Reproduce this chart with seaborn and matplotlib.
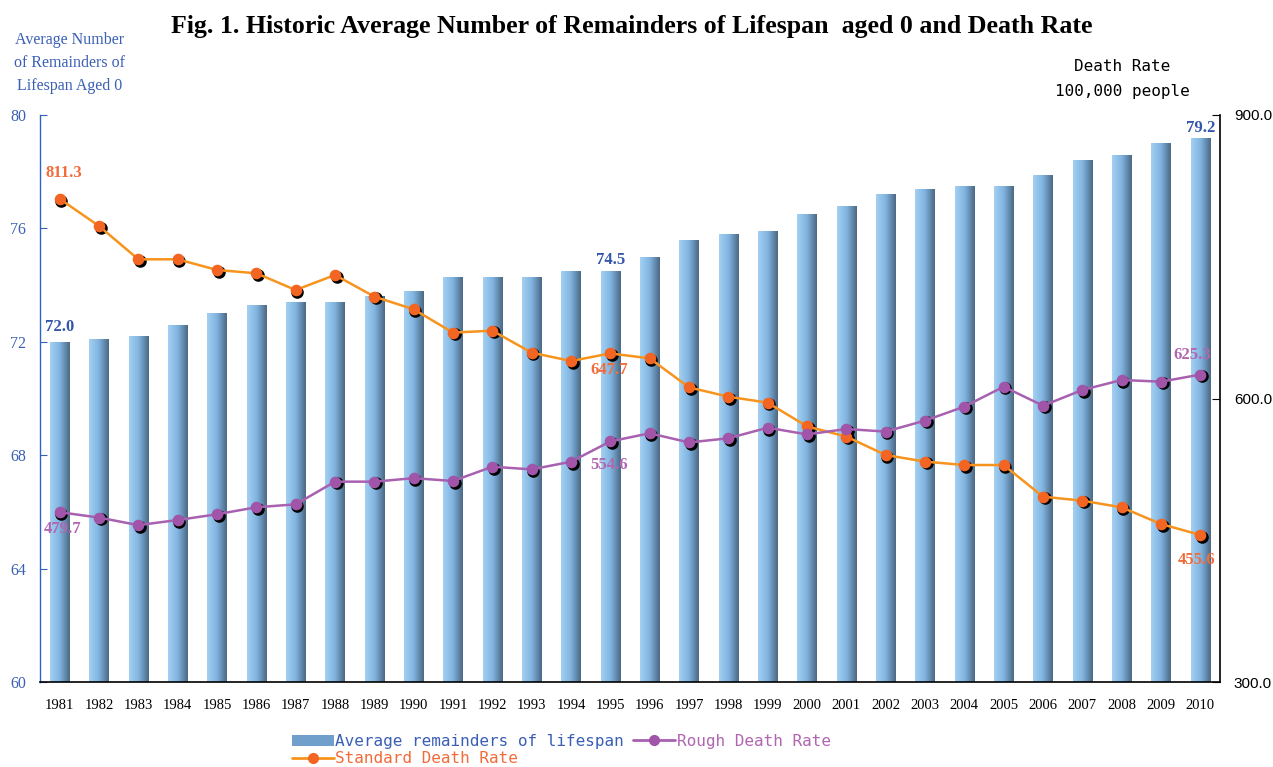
import numpy as np
import pandas as pd
import seaborn as sns
import matplotlib.pyplot as plt
import matplotlib.transforms as mtransforms
from matplotlib.colors import LinearSegmentedColormap
from matplotlib.patches import Patch
from matplotlib.lines import Line2D

years = [str(y) for y in range(1981, 2011)]
lifespan = [72.0, 72.1, 72.2, 72.6, 73.0, 73.3, 73.4, 73.4, 73.6, 73.8,
            74.3, 74.3, 74.3, 74.5, 74.5, 75.0, 75.6, 75.8, 75.9, 76.5,
            76.8, 77.2, 77.4, 77.5, 77.5, 77.9, 78.4, 78.6, 79.0, 79.2]
standard_rate = [811.3, 782.5, 747.3, 747.3, 736.0, 732.5, 714.8, 730.7, 707.8, 694.4,
                 669.7, 671.8, 648.5, 639.7, 647.7, 642.5, 611.8, 601.9, 595.6, 570.5,
                 559.7, 540.2, 533.2, 529.6, 529.6, 496.1, 491.9, 484.8, 467.2, 455.6]
rough_rate = [479.7, 474.0, 466.0, 471.4, 477.5, 484.9, 488.0, 512.0, 512.0, 515.7,
              512.7, 527.8, 525.0, 533.1, 554.6, 563.2, 553.5, 557.9, 569.1, 562.0,
              567.7, 565.0, 576.6, 591.4, 612.5, 592.4, 609.0, 619.6, 617.8, 625.3]

df = pd.DataFrame({'year': years, 'life': lifespan,
                   'standard': standard_rate, 'rough': rough_rate})

BLUE = '#3a5fb5'
ORANGE_LINE = '#f7941d'
ORANGE_MARK = '#f26522'
ORANGE_TXT = '#f26b3a'
PURPLE_LINE = '#a860b0'
PURPLE_MARK = '#a055a8'
PURPLE_TXT = '#b066b0'

sns.set_style('white')
fig, ax = plt.subplots(figsize=(12.73, 7.67), dpi=100)
fig.subplots_adjust(left=40/1273, right=1220/1273, top=1-115/767, bottom=1-682/767)

sns.barplot(data=df, x='year', y='life', color='#7fb2dd', width=0.5, ax=ax, zorder=2)

# gradient fill on each bar (light blue -> slate)
cmap = LinearSegmentedColormap.from_list('barg', ['#a3d0f2', '#7fb3df', '#4c6884'])
grad = np.linspace(0, 1, 64).reshape(1, -1)
for p in list(ax.patches):
    x0, w = p.get_x(), p.get_width()
    im = ax.imshow(grad, extent=[x0, x0 + w, 60, p.get_height()], aspect='auto',
                   cmap=cmap, zorder=2.5, interpolation='bicubic')
    im.set_clip_path(p)

ax.set_xlim(-0.5, 29.5)
ax.set_ylim(60, 80)
ax.set_yticks([60, 64, 68, 72, 76, 80])
ax.set_xlabel('')
ax.set_ylabel('')
ax.tick_params(axis='y', direction='in', length=5, colors=BLUE, labelcolor=BLUE,
               labelsize=11.5, pad=10)
ax.tick_params(axis='x', length=0, labelsize=10.5, pad=12, labelcolor='black')
for lab in ax.get_yticklabels():
    lab.set_fontfamily('Liberation Serif')
for lab in ax.get_xticklabels():
    lab.set_fontfamily('Liberation Serif')
ax.set_xticks(np.arange(-0.5, 30, 1), minor=True)
ax.tick_params(axis='x', which='minor', direction='in', length=4, color='black')

ax2 = ax.twinx()
for col, lc, mc in [('standard', ORANGE_LINE, ORANGE_MARK), ('rough', PURPLE_LINE, PURPLE_MARK)]:
    n0 = len(ax2.lines)
    sns.pointplot(data=df, x='year', y=col, color='black', linestyle='none',
                  markersize=7, ax=ax2, zorder=3)
    shadow = mtransforms.offset_copy(ax2.transData, fig=fig, x=1.8, y=-1.8, units='dots')
    for ln in ax2.lines[n0:]:
        ln.set_transform(shadow)
    n1 = len(ax2.lines)
    sns.pointplot(data=df, x='year', y=col, color=lc, markersize=7, linewidth=1.8,
                  ax=ax2, zorder=4)
    for ln in ax2.lines[n1:]:
        ln.set_markerfacecolor(mc)
        ln.set_markeredgecolor(mc)

ax2.set_ylim(300, 900)
ax2.set_yticks([300, 600, 900])
ax2.set_yticklabels(['300.0', '600.0', '900.0'])
ax2.set_xlim(-0.5, 29.5)
ax2.set_xlabel('')
ax2.set_ylabel('')
ax2.tick_params(axis='y', direction='in', length=6, colors='black', labelsize=11, pad=10)
for lab in ax2.get_yticklabels():
    lab.set_fontfamily('Liberation Sans')

for a in (ax, ax2):
    for s in a.spines.values():
        s.set_visible(False)
ax.spines['left'].set_visible(True)
ax.spines['left'].set_color('#2f62c8')
ax.spines['bottom'].set_visible(True)
ax.spines['bottom'].set_color('black')
ax2.spines['right'].set_visible(True)
ax2.spines['right'].set_color('black')
ax.spines['left'].set_linewidth(1.0)
ax.spines['bottom'].set_linewidth(1.2)
ax2.spines['right'].set_linewidth(1.2)

# data labels
bold_serif = dict(fontfamily='Liberation Serif', fontweight='bold', fontsize=12)
for i, dy in [(0, 5), (14, 2), (29, 1)]:
    ax.annotate(f'{lifespan[i]:.1f}', (i, lifespan[i]), xytext=(0, dy), textcoords='offset points',
                ha='center', va='bottom', color='#3355aa', zorder=6, **bold_serif)
ax2.annotate(f'{standard_rate[0]:.1f}', (0, standard_rate[0]), xytext=(3, 13),
             textcoords='offset points', ha='center', va='bottom', color=ORANGE_TXT, **bold_serif)
ax2.annotate(f'{standard_rate[14]:.1f}', (14, standard_rate[14]), xytext=(-1, -6),
             textcoords='offset points', ha='center', va='top', color=ORANGE_TXT, **bold_serif)
ax2.annotate(f'{standard_rate[29]:.1f}', (29, standard_rate[29]), xytext=(-3, -12),
             textcoords='offset points', ha='center', va='top', color=ORANGE_TXT, **bold_serif)
ax2.annotate(f'{rough_rate[0]:.1f}', (0, rough_rate[0]), xytext=(2, -6),
             textcoords='offset points', ha='center', va='top', color=PURPLE_TXT, **bold_serif)
ax2.annotate(f'{rough_rate[14]:.1f}', (14, rough_rate[14]), xytext=(-1, -11),
             textcoords='offset points', ha='center', va='top', color=PURPLE_TXT, **bold_serif)
ax2.annotate(f'{rough_rate[29]:.1f}', (29, rough_rate[29]), xytext=(-6, 8),
             textcoords='offset points', ha='center', va='bottom', color=PURPLE_TXT, **bold_serif)

fig.text(632/1273, 1-26/767, 'Fig. 1. Historic Average Number of Remainders of Lifespan  aged 0 and Death Rate',
         ha='center', va='center', fontsize=18.6, fontweight='bold', fontfamily='Liberation Serif',
         color='black')
fig.text(70/1273, 1-63/767, 'Average Number\nof Remainders of\nLifespan Aged 0', ha='center', va='center',
         fontsize=11.5, color=BLUE, fontfamily='Liberation Serif', linespacing=1.55)
fig.text(1122/1273, 1-79/767, 'Death Rate\n100,000 people', ha='center', va='center',
         fontsize=11.5, color='black', fontfamily='DejaVu Sans Mono', linespacing=1.8)

handles = [Patch(facecolor='#6f9fca', edgecolor='none'),
           Line2D([], [], color=ORANGE_LINE, lw=2, marker='o', markersize=7, markerfacecolor=ORANGE_MARK,
                  markeredgecolor=ORANGE_MARK),
           Line2D([], [], color=PURPLE_LINE, lw=2, marker='o', markersize=7, markerfacecolor=PURPLE_MARK,
                  markeredgecolor=PURPLE_MARK)]
labels = ['Average remainders of lifespan', 'Standard Death Rate', 'Rough Death Rate']
leg = fig.legend(handles, labels, ncol=2, frameon=False, loc='upper left',
                 bbox_to_anchor=(292/1273, 1-734/767), prop={'family': 'DejaVu Sans Mono', 'size': 11.5},
                 handlelength=2.6, handletextpad=0.1, columnspacing=0.6, labelspacing=0.15,
                 borderaxespad=0, borderpad=0)
for txt, c in zip(leg.get_texts(), [BLUE, ORANGE_TXT, PURPLE_TXT]):
    txt.set_color(c)

fig.savefig('out.png', dpi=100)
